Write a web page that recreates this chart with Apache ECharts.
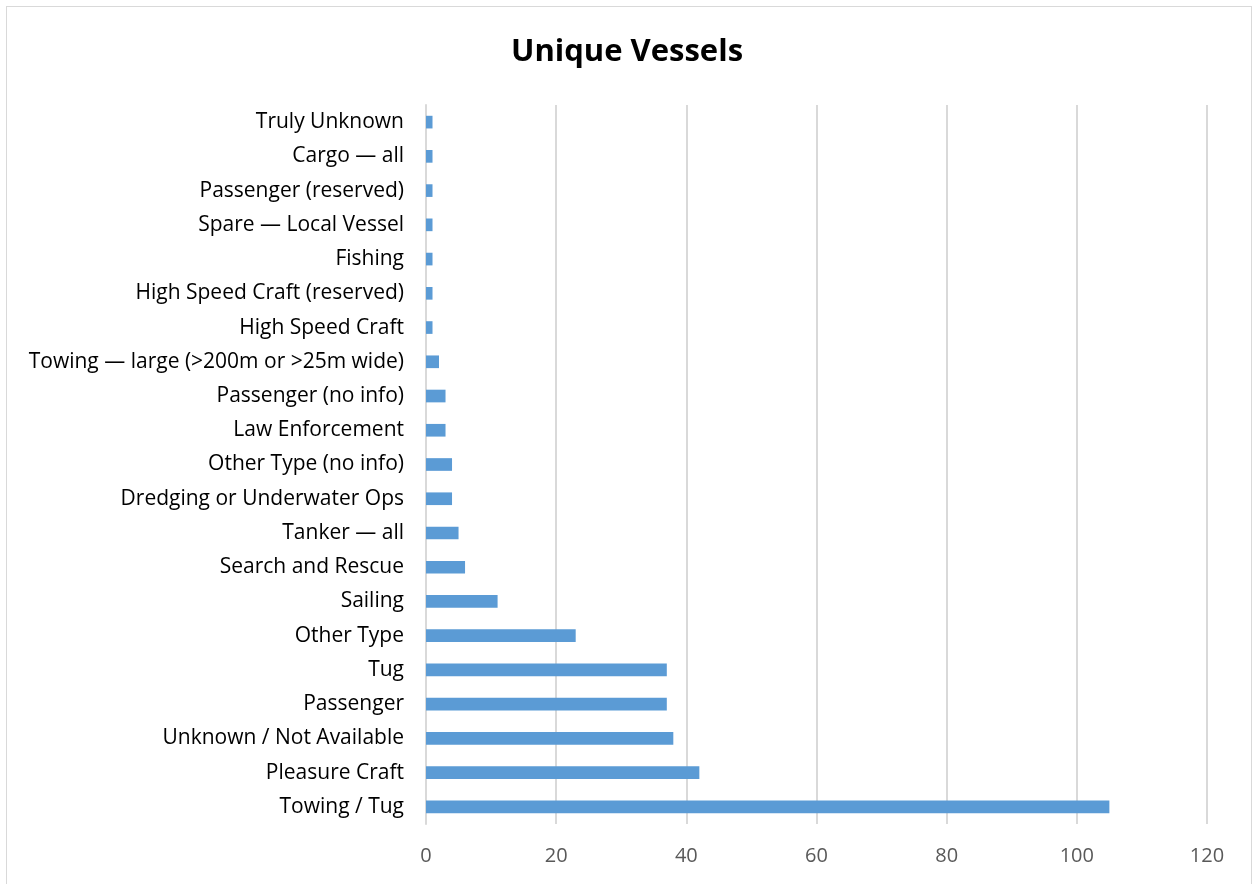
<!DOCTYPE html>
<html>
<head>
<meta charset="utf-8">
<script src="https://cdn.jsdelivr.net/npm/echarts@6/dist/echarts.min.js"></script>
<style>
  html, body { margin: 0; padding: 0; background: #fff; }
  #frame { position: absolute; left: 6px; top: 6px; width: 1246px; height: 884px; border: 1px solid #d9d9d9; box-sizing: border-box; }
  #chart { position: absolute; left: 0; top: 0; width: 1254px; height: 884px; }
</style>
</head>
<body>
<div id="frame"></div>
<div id="chart"></div>
<script>
// Vessel types, listed bottom-to-top as they appear on the category axis
const categories = [
  'Towing / Tug',
  'Pleasure Craft',
  'Unknown / Not Available',
  'Passenger',
  'Tug',
  'Other Type',
  'Sailing',
  'Search and Rescue',
  'Tanker — all',
  'Dredging or Underwater Ops',
  'Other Type (no info)',
  'Law Enforcement',
  'Passenger (no info)',
  'Towing — large (>200m or >25m wide)',
  'High Speed Craft',
  'High Speed Craft (reserved)',
  'Fishing',
  'Spare — Local Vessel',
  'Passenger (reserved)',
  'Cargo — all',
  'Truly Unknown'
];

// Count of unique vessels per type
const uniqueVessels = [105, 42, 38, 37, 37, 23, 11, 6, 5, 4, 4, 3, 3, 2, 1, 1, 1, 1, 1, 1, 1];

const xTicks = { min: 0, max: 120, interval: 20 };

const chart = echarts.init(document.getElementById('chart'), null, { renderer: 'canvas' });
chart.setOption({
  animation: false,
  backgroundColor: 'transparent',
  title: {
    text: 'Unique Vessels',
    left: 'center',
    top: 32,
    textStyle: { fontFamily: 'Open Sans', fontWeight: 'bold', fontSize: 31, color: '#000' }
  },
  grid: { left: 426, right: 47, top: 105, bottom: 60, containLabel: false },
  xAxis: {
    type: 'value',
    min: xTicks.min,
    max: xTicks.max,
    interval: xTicks.interval,
    axisLine: { show: false },
    axisTick: { show: false },
    splitLine: { show: true, lineStyle: { color: '#d9d9d9', width: 2 } },
    axisLabel: { fontFamily: 'Open Sans', fontSize: 20, color: '#595959', margin: 22 }
  },
  yAxis: {
    type: 'category',
    data: categories,
    axisLine: { show: true, lineStyle: { color: '#d9d9d9', width: 2 } },
    axisTick: { show: false },
    axisLabel: { fontFamily: 'Open Sans', fontSize: 21, color: '#000', margin: 22, padding: [4, 0, 0, 0] }
  },
  series: [{
    type: 'bar',
    data: uniqueVessels,
    barWidth: '37%',
    itemStyle: { color: '#5b9bd5' }
  }]
});
</script>
</body>
</html>
